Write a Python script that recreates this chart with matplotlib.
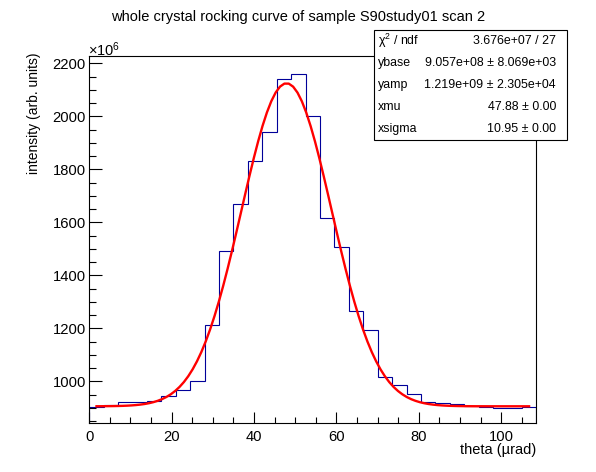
import numpy as np
import matplotlib
matplotlib.use("Agg")
import matplotlib.pyplot as plt

plt.rcParams['font.family'] = ['Liberation Sans', 'DejaVu Sans']
plt.rcParams['mathtext.fontset'] = 'custom'
plt.rcParams['mathtext.rm'] = 'Liberation Sans'
plt.rcParams['mathtext.it'] = 'Liberation Sans'
plt.rcParams['mathtext.default'] = 'regular'

# ---- data (intensity in units of 1e6) ----
bin_edges = np.arange(0, 108.5 + 0.01, 3.5)
counts = [902, 910, 920, 920, 925, 944, 966, 1000, 1211, 1490,
          1668, 1830, 1940, 2140, 2158, 2000, 1615, 1508, 1265, 1194,
          1015, 986, 952, 923, 917, 913, 907, 903, 898, 898, 903]

# fit parameters (from stats box)
ybase = 9.057e+08
yamp = 1.219e+09
xmu = 47.88
xsigma = 10.95
fit_range = (1.75, 106.75)

stat_labels = ["χ$^{2}$ / ndf", "ybase", "yamp", "xmu", "xsigma"]
stat_values = ["3.676e+07 / 27", "9.057e+08 ± 8.069e+03",
               "1.219e+09 ± 2.305e+04", "47.88 ± 0.00", "10.95 ± 0.00"]

title = "whole crystal rocking curve of sample S90study01 scan 2"
xlabel = "theta (µrad)"
ylabel = "intensity (arb. units)"

W, H = 596, 472
fig = plt.figure(figsize=(W / 100, H / 100), dpi=100)
ax = fig.add_axes([89.3 / W, 1 - 423.3 / H, (536.3 - 89.3) / W, (423.3 - 56) / H])

ax.stairs(counts, bin_edges, color="#000099", lw=0.8)

xf = np.linspace(fit_range[0], fit_range[1], 100)
yf = (ybase + yamp * np.exp(-0.5 * ((xf - xmu) / xsigma) ** 2)) / 1e6
ax.plot(xf, yf, color="#ff0000", lw=1.7)

ax.set_xlim(0, 108.5)
ax.set_ylim(841.5, 2227.5)
ax.set_xticks(np.arange(0, 101, 20))
ax.set_xticks(np.arange(0, 108.5, 5), minor=True)
ax.set_yticks(np.arange(1000, 2201, 200))
ax.set_yticks(np.arange(850, 2227, 50), minor=True)
ax.tick_params(axis="both", which="both", direction="in", top=False, right=False,
               labelsize=10.6, width=0.8)
ax.tick_params(axis="x", which="major", length=8, pad=5)
ax.tick_params(axis="x", which="minor", length=4)
ax.tick_params(axis="y", which="major", length=9.6, pad=2.5)
ax.tick_params(axis="y", which="minor", length=4.8)
for s in ax.spines.values():
    s.set_linewidth(0.8)

fig.text(297.7 / W, 1 - 16.7 / H, title, ha="center", va="center", fontsize=10.5)
fig.text(536 / W, 1 - 450 / H, xlabel, ha="right", va="center", fontsize=10.5)
fig.text(34.3 / W, 1 - 53 / H, ylabel, ha="center", va="top", rotation=90, fontsize=10)
fig.text(88 / W, 1 - 50 / H, r"$\times10^{6}$", ha="left", va="center", fontsize=10.5)

# stats box
bx0, bx1, by0, by1 = 374, 566.5, 30, 140
box = plt.Rectangle((bx0 / W, 1 - by1 / H), (bx1 - bx0) / W, (by1 - by0) / H,
                    transform=fig.transFigure, facecolor="white", edgecolor="black",
                    lw=0.8, zorder=5)
fig.add_artist(box)
n = len(stat_labels)
rowh = (by1 - by0) / n
for i, (lab, val) in enumerate(zip(stat_labels, stat_values)):
    yc = by0 + rowh * (i + 0.5)
    fig.text(377.5 / W, 1 - yc / H, lab, ha="left", va="center", fontsize=8.9, zorder=6)
    fig.text(556 / W, 1 - yc / H, val, ha="right", va="center", fontsize=8.9, zorder=6)

fig.savefig("out.png", dpi=100)
